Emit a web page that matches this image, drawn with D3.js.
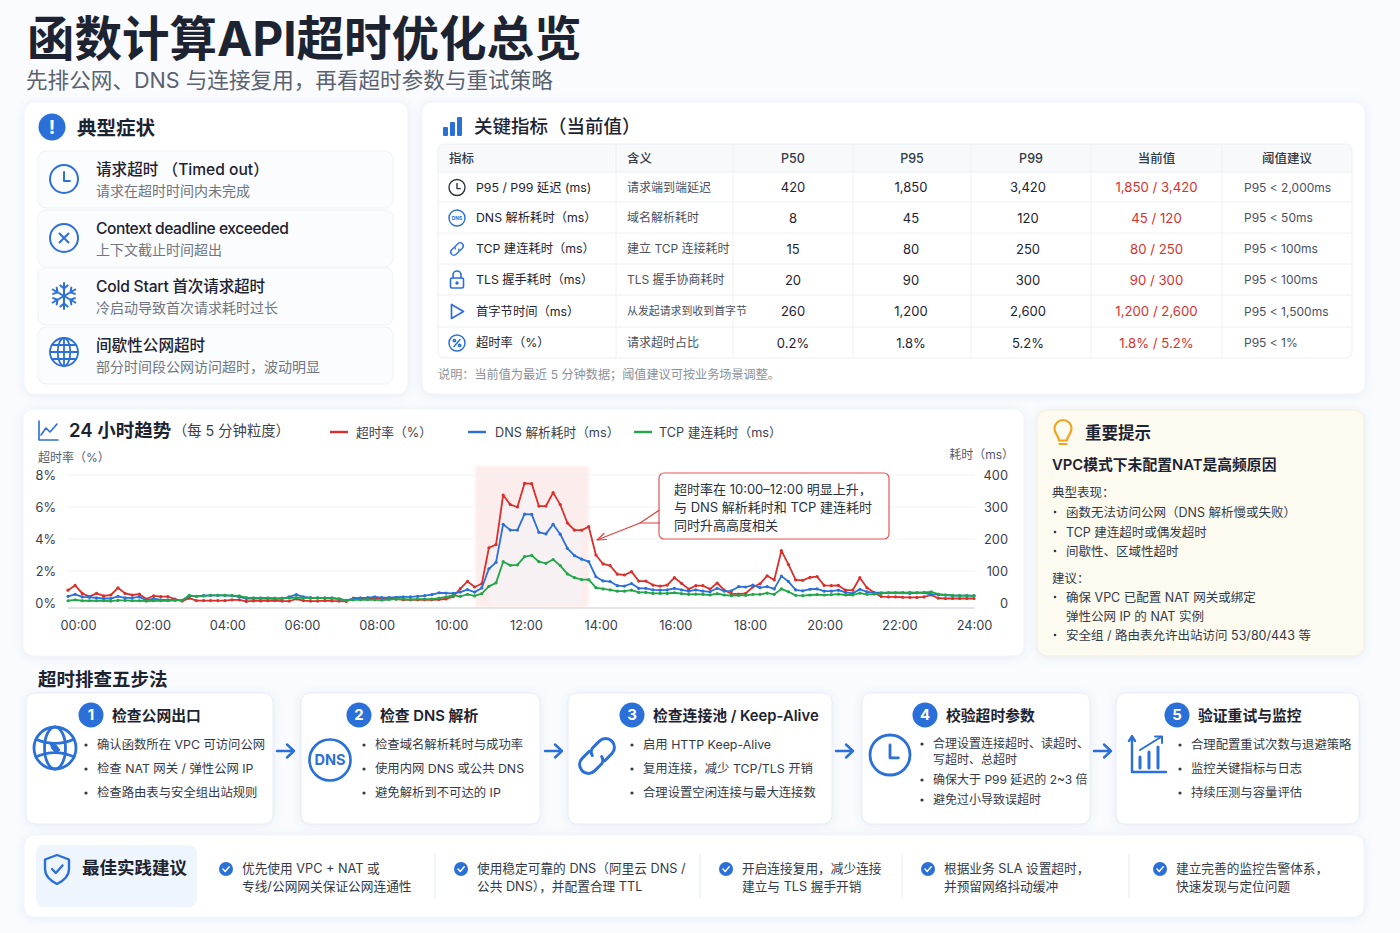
<!DOCTYPE html>
<html lang="zh">
<head>
<meta charset="utf-8">
<title>函数计算API超时优化总览</title>
<script src="https://cdn.jsdelivr.net/npm/d3@7/dist/d3.min.js"></script>
<style>
html, body { margin: 0; padding: 0; background: #f9fbfe; }
svg { display: block; }
text { font-family: "Inter", "Noto Sans CJK SC", sans-serif; }
</style>
</head>
<body>
<div id="chart"></div>
<script>
//////////////////////
// Data
//////////////////////

var pageTitle = "函数计算API超时优化总览";
var pageSubtitle = "先排公网、DNS 与连接复用，再看超时参数与重试策略";

var symptomTitles = ["请求超时 （Timed out）", "Context deadline exceeded", "Cold Start 首次请求超时", "间歇性公网超时"];
var symptomNotes = ["请求在超时时间内未完成", "上下文截止时间超出", "冷启动导致首次请求耗时过长", "部分时间段公网访问超时，波动明显"];

var tableHeaders = ["指标", "含义", "P50", "P95", "P99", "当前值", "阈值建议"];
var metricNames = ["P95 / P99 延迟 (ms)", "DNS 解析耗时（ms）", "TCP 建连耗时（ms）", "TLS 握手耗时（ms）", "首字节时间（ms）", "超时率（%）"];
var metricMeanings = ["请求端到端延迟", "域名解析耗时", "建立 TCP 连接耗时", "TLS 握手协商耗时", "从发起请求到收到首字节", "请求超时占比"];
var p50Values = ["420", "8", "15", "20", "260", "0.2%"];
var p95Values = ["1,850", "45", "80", "90", "1,200", "1.8%"];
var p99Values = ["3,420", "120", "250", "300", "2,600", "5.2%"];
var currentValues = ["1,850 / 3,420", "45 / 120", "80 / 250", "90 / 300", "1,200 / 2,600", "1.8% / 5.2%"];
var thresholds = ["P95 < 2,000ms", "P95 < 50ms", "P95 < 100ms", "P95 < 100ms", "P95 < 1,500ms", "P95 < 1%"];
var tableNote = "说明：当前值为最近 5 分钟数据；阈值建议可按业务场景调整。";

var hourTicks = [0, 2, 4, 6, 8, 10, 12, 14, 16, 18, 20, 22, 24];
var rateTicks = [0, 2, 4, 6, 8];
var msTicks = [0, 100, 200, 300, 400];

var timeoutRate = [
  0.8, 1.1, 0.6, 0.4, 0.6, 0.45, 0.5, 0.95, 0.6, 0.5, 0.55, 0.25, 0.45, 0.4, 0.4,
  0.25, 0.12, 0.3, 0.15, 0.15, 0.15, 0.15, 0.15, 0.2, 0.2, 0.1, 0.13, 0.13, 0.14, 0.15,
  0.12, 0.12, 0.25, 0.15, 0.12, 0.12, 0.15, 0.13, 0.12, 0.1, 0.3, 0.28, 0.28, 0.3, 0.28,
  0.3, 0.25, 0.2, 0.2, 0.2, 0.2, 0.2, 0.22, 0.25, 0.4, 0.9, 1.35, 1.0, 1.2, 3.45, 3.65,
  6.75, 6.15, 6.0, 7.48, 7.46, 6.06, 6.06, 6.9, 6.15, 5.0, 4.55, 4.55, 4.77, 3.0, 2.44,
  2.33, 1.8, 1.75, 1.96, 1.37, 1.37, 1.12, 1.06, 1.12, 1.58, 1.23, 0.87, 1.08, 1.08, 0.87, 1.25,
  0.8, 0.58, 0.56, 0.6, 1.0, 1.2, 1.7, 1.44, 3.27, 2.4, 1.44, 1.42, 1.6, 1.65, 1.1, 1.08, 1.1,
  0.8, 0.8, 1.58, 0.95, 0.65, 0.4, 0.38, 0.38, 0.36, 0.35, 0.35, 0.38, 0.5, 0.3, 0.28, 0.28, 0.28, 0.28, 0.28
];
var dnsMs = [
  21, 27, 19, 18, 16, 14, 14, 21, 16, 16, 19, 8, 14, 10, 10,
  10, 8, 22, 21, 23, 24, 24, 24, 23, 19, 14, 14, 14, 14, 13,
  13, 19, 26, 19, 17, 16, 16, 16, 13, 8, 14, 16, 17, 19, 17,
  17, 18, 19, 19, 21, 23, 26, 32, 31, 30, 34, 42, 34, 47, 107, 127,
  246, 228, 228, 278, 277, 221, 216, 246, 215, 171, 148, 137, 129, 82, 69,
  67, 54, 53, 61, 46, 46, 41, 40, 41, 46, 41, 37, 41, 37, 35, 46,
  37, 38, 51, 50, 56, 48, 51, 44, 84, 67, 41, 38, 43, 44, 37, 37, 40,
  33, 30, 43, 35, 32, 32, 32, 32, 32, 30, 32, 32, 27, 26, 25, 23, 23, 23, 22
];
var tcpMs = [
  7, 10, 7, 7, 7, 7, 6, 8, 8, 7, 7, 6, 7, 7, 7,
  8, 8, 24, 21, 22, 24, 24, 24, 23, 22, 17, 16, 16, 16, 15,
  15, 16, 17, 16, 15, 16, 15, 14, 13, 8, 10, 10, 11, 10, 9,
  11, 12, 12, 11, 12, 12, 12, 15, 19, 24, 21, 27, 22, 29, 52, 63,
  129, 118, 119, 145, 149, 129, 124, 136, 117, 91, 79, 73, 73, 48, 44,
  41, 37, 37, 40, 33, 33, 30, 30, 30, 32, 29, 27, 28, 27, 25, 29,
  25, 23, 24, 24, 27, 27, 31, 27, 44, 35, 24, 23, 25, 26, 25, 26, 28,
  25, 25, 31, 27, 28, 30, 32, 32, 32, 33, 32, 33, 35, 28, 25, 24, 23, 23, 23
];
var legendNames = ["超时率（%）", "DNS 解析耗时（ms）", "TCP 建连耗时（ms）"];
var calloutLines = ["超时率在 10:00–12:00 明显上升，", "与 DNS 解析耗时和 TCP 建连耗时", "同时升高高度相关"];

var tipSymptoms = ["函数无法访问公网（DNS 解析慢或失败）", "TCP 建连超时或偶发超时", "间歇性、区域性超时"];
var tipAdvice = ["确保 VPC 已配置 NAT 网关或绑定", "弹性公网 IP 的 NAT 实例", "安全组 / 路由表允许出站访问 53/80/443 等"];

var stepTitles = ["检查公网出口", "检查 DNS 解析", "检查连接池 / Keep-Alive", "校验超时参数", "验证重试与监控"];
var stepBullets = [
  ["确认函数所在 VPC 可访问公网", "检查 NAT 网关 / 弹性公网 IP", "检查路由表与安全组出站规则"],
  ["检查域名解析耗时与成功率", "使用内网 DNS 或公共 DNS", "避免解析到不可达的 IP"],
  ["启用 HTTP Keep-Alive", "复用连接，减少 TCP/TLS 开销", "合理设置空闲连接与最大连接数"],
  ["合理设置连接超时、读超时、|写超时、总超时", "确保大于 P99 延迟的 2~3 倍", "避免过小导致误超时"],
  ["合理配置重试次数与退避策略", "监控关键指标与日志", "持续压测与容量评估"]
];

var practiceLines = [
  ["优先使用 VPC + NAT 或", "专线/公网网关保证公网连通性"],
  ["使用稳定可靠的 DNS（阿里云 DNS /", "公共 DNS），并配置合理 TTL"],
  ["开启连接复用，减少连接", "建立与 TLS 握手开销"],
  ["根据业务 SLA 设置超时，", "并预留网络抖动缓冲"],
  ["建立完善的监控告警体系，", "快速发现与定位问题"]
];

//////////////////////
// Base
//////////////////////

var BLUE = "#2b6fd8", RED = "#d9302c", GREEN = "#23a54a", INK = "#1d2330", BODY = "#333a47", GRAY = "#6f7682";

var svg = d3.select("#chart").append("svg").attr("width", 1400).attr("height", 933);
var defs = svg.append("defs");

var shadow = defs.append("filter").attr("id", "soft").attr("x", "-5%").attr("y", "-10%").attr("width", "110%").attr("height", "120%");
shadow.append("feDropShadow").attr("dx", 0).attr("dy", 1).attr("stdDeviation", 4)
  .attr("flood-color", "#5a7ab0").attr("flood-opacity", 0.12);

defs.append("filter").attr("id", "blur2").append("feGaussianBlur").attr("stdDeviation", 1.5);

function label(parent, x, y, txt, size, color, weight, anchor) {
  return parent.append("text")
    .attr("x", x).attr("y", y).attr("dy", "0.36em")
    .attr("font-size", size)
    .attr("fill", color || BODY)
    .attr("font-weight", weight || 400)
    .attr("text-anchor", anchor || "start")
    .text(txt);
}

function card(x, y, w, h, fill, stroke) {
  return svg.append("rect").attr("x", x).attr("y", y).attr("width", w).attr("height", h).attr("rx", 10)
    .attr("fill", fill || "#fff").attr("stroke", stroke || "#f1f4f9").attr("filter", "url(#soft)");
}

function icon(x, y, color, width) {
  return svg.append("g").attr("transform", "translate(" + x + "," + y + ")")
    .attr("fill", "none").attr("stroke", color || BLUE).attr("stroke-width", width || 2)
    .attr("stroke-linecap", "round").attr("stroke-linejoin", "round");
}

//////////////////////
// Icons (drawn round 0,0)
//////////////////////

function clockIcon(x, y, r, w, color) {
  var g = icon(x, y, color || BLUE, w);
  g.append("circle").attr("r", r);
  g.append("path").attr("d", "M0 " + (-r * 0.5) + "V" + (r * 0.14) + "H" + (r * 0.42));
}

function crossIcon(x, y, r) {
  var g = icon(x, y, BLUE, 2);
  g.append("circle").attr("r", r);
  g.append("path").attr("d", "M-4.5 -4.5L4.5 4.5M4.5 -4.5L-4.5 4.5");
}

function snowIcon(x, y) {
  var g = icon(x, y, BLUE, 2);
  d3.range(6).forEach(function (k) {
    g.append("path").attr("transform", "rotate(" + k * 60 + ")")
      .attr("d", "M0 0V-13M-3.6 -10.5L0 -7.5L3.6 -10.5");
  });
}

function globeIcon(x, y, r, w) {
  var g = icon(x, y, BLUE, w);
  g.append("circle").attr("r", r);
  g.append("ellipse").attr("rx", r * 0.45).attr("ry", r);
  g.append("path").attr("d", "M0 " + (-r) + "V" + r + "M" + (-r) + " 0H" + r +
    "M" + (-r * 0.86) + " " + (-r * 0.5) + "H" + (r * 0.86) + "M" + (-r * 0.86) + " " + (r * 0.5) + "H" + (r * 0.86));
}

// the step 1 globe has curved latitudes and a small land mark at the centre
function earthIcon(x, y, r, w) {
  var g = icon(x, y, BLUE, w);
  g.append("circle").attr("r", r);
  g.append("ellipse").attr("rx", r * 0.5).attr("ry", r);
  g.append("path").attr("d", "M" + (-r * 0.9) + " " + (-r * 0.42) + "Q0 " + (-r * 0.02) + " " + (r * 0.9) + " " + (-r * 0.42));
  g.append("path").attr("d", "M" + (-r * 0.9) + " " + (r * 0.42) + "Q0 " + (r * 0.02) + " " + (r * 0.9) + " " + (r * 0.42));
  g.append("path").attr("d", "M-5 -6L1 -3L5 2L1 5L-3 1Z").attr("fill", BLUE).attr("stroke-width", 1);
}

function linkIcon(x, y, s, w, color) {
  var g = icon(x, y, color || BLUE, w);
  g.append("g").attr("transform", "rotate(-45)").call(function (l) {
    l.append("path").attr("d", "M" + (-0.1 * s) + " " + (-0.42 * s) + "H" + (-0.58 * s) + "A" + (0.42 * s) + " " + (0.42 * s) + " 0 0 0 " + (-0.58 * s) + " " + (0.42 * s) + "H" + (-0.1 * s) + "A" + (0.32 * s) + " " + (0.32 * s) + " 0 0 0 " + (0.14 * s) + " " + (0.18 * s));
    l.append("path").attr("d", "M" + (0.1 * s) + " " + (0.42 * s) + "H" + (0.58 * s) + "A" + (0.42 * s) + " " + (0.42 * s) + " 0 0 0 " + (0.58 * s) + " " + (-0.42 * s) + "H" + (0.1 * s) + "A" + (0.32 * s) + " " + (0.32 * s) + " 0 0 0 " + (-0.14 * s) + " " + (-0.18 * s));
  });
}

function lockIcon(x, y) {
  var g = icon(x, y, BLUE, 1.6);
  g.append("rect").attr("x", -6.5).attr("y", -2).attr("width", 13).attr("height", 10).attr("rx", 1.5);
  g.append("path").attr("d", "M-4 -2V-5A4 4 0 0 1 4 -5V-2");
  g.append("circle").attr("cy", 3).attr("r", 0.9).attr("fill", BLUE);
}

function playIcon(x, y) {
  icon(x, y, BLUE, 1.7).append("path").attr("d", "M-5.5 -7V7L6.5 0Z");
}

function percentIcon(x, y) {
  var g = icon(x, y, BLUE, 1.5);
  g.append("circle").attr("r", 8);
  g.append("path").attr("d", "M-3 3.5L3 -3.5");
  g.append("circle").attr("cx", -2.6).attr("cy", -2.4).attr("r", 1.2);
  g.append("circle").attr("cx", 2.6).attr("cy", 2.4).attr("r", 1.2);
}

function dnsBadge(x, y, r, size, w) {
  icon(x, y, BLUE, w).append("circle").attr("r", r);
  label(svg, x, y, "DNS", size, BLUE, 700, "middle");
}

function checkBadge(x, y) {
  svg.append("circle").attr("cx", x).attr("cy", y).attr("r", 7).attr("fill", BLUE);
  icon(x, y, "#fff", 1.5).append("path").attr("d", "M-3 0L-0.8 2.4L3.2 -2.2");
}

function stepArrow(x, y) {
  icon(x, y, BLUE, 2.4).append("path").attr("d", "M0 0H17M10 -6.5L17 0L10 6.5");
}

//////////////////////
// Header
//////////////////////

label(svg, 27, 39, pageTitle, 47.5, INK, 700);
label(svg, 26, 80, pageSubtitle, 21.6, "#5b626e");

//////////////////////
// Symptoms
//////////////////////

card(24, 102, 384, 292);
svg.append("circle").attr("cx", 52).attr("cy", 127).attr("r", 13.5).attr("fill", BLUE);
label(svg, 52, 127, "!", 19, "#fff", 700, "middle");
label(svg, 77, 128, "典型症状", 19.5, INK, 700);

var itemTops = [151, 210, 268, 327];
symptomTitles.forEach(function (t, i) {
  var top = itemTops[i];
  svg.append("rect").attr("x", 38).attr("y", top).attr("width", 355).attr("height", 57).attr("rx", 8)
    .attr("fill", "#fbfcfe").attr("stroke", "#eff2f6");
  label(svg, 96, top + 18, t, 15.6, INK, 500)
    .attr("letter-spacing", i === 1 ? -0.45 : (i === 2 ? -0.2 : 0));
  label(svg, 96, top + 40, symptomNotes[i], 14, GRAY);
});
clockIcon(64, 179, 14, 2);
crossIcon(64, 238, 14);
snowIcon(64, 296);
globeIcon(64, 352, 14, 1.8);

//////////////////////
// Metrics table
//////////////////////

card(422, 102, 943, 292);
var bars = svg.append("g").attr("fill", BLUE);
[[443, 127, 5, 9], [450, 122, 5, 14], [457, 117, 5, 19]].forEach(function (b) {
  bars.append("rect").attr("x", b[0]).attr("y", b[1]).attr("width", b[2]).attr("height", b[3]).attr("rx", 1);
});
label(svg, 474, 126, "关键指标（当前值）", 18.5, INK, 500);

var colEdges = [438, 616, 733, 853, 971, 1091, 1222, 1352];
var rowEdges = [172, 202, 233, 264, 295, 327, 358];
var rowMid = metricNames.map(function (d, i) { return (rowEdges[i] + rowEdges[i + 1]) / 2 + 0.5; });
var colMid = colEdges.slice(0, -1).map(function (d, i) { return (d + colEdges[i + 1]) / 2; });

svg.append("path").attr("fill", "#f7f9fb")
  .attr("d", "M438 172V150a6 6 0 0 1 6-6H1346a6 6 0 0 1 6 6V172Z");
svg.append("rect").attr("x", 438).attr("y", 144).attr("width", 914).attr("height", 214).attr("rx", 6)
  .attr("fill", "none").attr("stroke", "#eceff3");
rowEdges.slice(0, -1).forEach(function (y) {
  svg.append("line").attr("x1", 438).attr("x2", 1352).attr("y1", y).attr("y2", y).attr("stroke", "#eef0f4");
});
colEdges.slice(1, -1).forEach(function (x) {
  svg.append("line").attr("x1", x).attr("x2", x).attr("y1", 144).attr("y2", 358).attr("stroke", "#eef0f4");
});

tableHeaders.forEach(function (h, i) {
  if (i < 2) { label(svg, i === 0 ? 449 : 627, 158, h, 12.5, BODY, 500); }
  else { label(svg, colMid[i], 158, h, 12.5, BODY, 500, "middle"); }
});
metricNames.forEach(function (m, i) {
  var y = rowMid[i];
  label(svg, 476, y, m, 12.3, INK);
  label(svg, 627, y, metricMeanings[i], i === 4 ? 10.9 : 12, "#4a515e");
  label(svg, colMid[2], y, p50Values[i], 13, INK, 400, "middle");
  label(svg, colMid[3] - 1, y, p95Values[i], 13, INK, 400, "middle");
  label(svg, colMid[4] - 3, y, p99Values[i], 13, INK, 400, "middle");
  label(svg, colMid[5], y, currentValues[i], 13.2, RED, 400, "middle");
  label(svg, 1244, y, thresholds[i], 12, "#4a515e");
});
clockIcon(457, rowMid[0], 8, 1.4, "#2c3440");
dnsBadge(457, rowMid[1], 8, 5, 1.4);
linkIcon(457, rowMid[2], 7.5, 1.4);
lockIcon(457, rowMid[3]);
playIcon(457, rowMid[4]);
percentIcon(457, rowMid[5]);
label(svg, 438, 375, tableNote, 12.15, "#8b919b");

//////////////////////
// Trend chart
//////////////////////

card(23, 409, 1001, 247);

var lastIndex = timeoutRate.length - 1;
var xIndex = d3.scaleLinear().domain([0, lastIndex]).range([68, 974]);
var xHour = d3.scaleLinear().domain([0, 24]).range([78, 974]);
var yRate = d3.scaleLinear().domain([0, 8]).range([603, 475]);
var yMs = d3.scaleLinear().domain([0, 400]).range([603, 475]);

var trend = icon(0, 0, BLUE, 1.6);
trend.append("path").attr("d", "M39 421V440H58M41 435L46 428L50 432L57 424");
label(svg, 69, 430, "24 小时趋势", 18.5, INK, 600);
label(svg, 173, 431, "（每 5 分钟粒度）", 14.3, "#3a404c");

[[330, 356, RED], [468, 495, BLUE], [634, 659, GREEN]].forEach(function (l, i) {
  svg.append("line").attr("x1", l[0]).attr("x2", l[0] + 18).attr("y1", 432).attr("y2", 432)
    .attr("stroke", l[2]).attr("stroke-width", 2.4);
  label(svg, l[1], 432, legendNames[i], 12.7, "#3a404c");
});
label(svg, 38, 458, "超时率（%）", 12, "#555c68");
label(svg, 1014, 455, "耗时（ms）", 12, "#555c68", 400, "end");

// highlight window behind the spike
svg.append("rect").attr("x", xIndex(57.1)).attr("y", 466).attr("width", xIndex(73) - xIndex(57.1)).attr("height", 141)
  .attr("fill", "#fdecec").attr("filter", "url(#blur2)");

var hazeArea = d3.area()
  .x(function (d) { return xIndex(d); })
  .y0(yRate(0))
  .y1(function (d) { return yRate(timeoutRate[d]); });
svg.append("path").datum(d3.range(59, 73)).attr("d", hazeArea).attr("fill", "#f3f6fc").attr("opacity", 0.5);

// grid
svg.append("g").selectAll("line").data(rateTicks.slice(1)).enter().append("line")
  .attr("x1", 66).attr("x2", 975)
  .attr("y1", function (d) { return yRate(d); })
  .attr("y2", function (d) { return yRate(d); })
  .attr("stroke", "#eef0f3").attr("opacity", 0.8);
svg.append("line").attr("x1", 68).attr("x2", 975).attr("y1", 608).attr("y2", 608).attr("stroke", "#c9ccd2").attr("stroke-width", 1.2);

var axisBottom = d3.axisBottom(xHour).tickValues(hourTicks).tickSize(0)
  .tickFormat(function (h) { return (h < 10 ? "0" : "") + h + ":00"; });
var gx = svg.append("g").attr("transform", "translate(0,618)").call(axisBottom);
gx.select(".domain").remove();
gx.selectAll("text").attr("font-size", 12.8).attr("fill", "#3a404c").attr("font-family", null).attr("dy", "0.71em");

var axisLeft = d3.axisLeft(yRate).tickValues(rateTicks).tickSize(0).tickFormat(function (d) { return d + "%"; });
var gl = svg.append("g").attr("transform", "translate(59,0)").call(axisLeft);
gl.select(".domain").remove();
gl.selectAll("text").attr("font-size", 12.8).attr("fill", "#3a404c").attr("font-family", null);

var axisRight = d3.axisLeft(yMs).tickValues(msTicks).tickSize(0);
var gr = svg.append("g").attr("transform", "translate(1011,0)").call(axisRight);
gr.select(".domain").remove();
gr.selectAll("text").attr("font-size", 12.8).attr("fill", "#3a404c").attr("font-family", null);

function drawSeries(values, scale, color) {
  var lineGen = d3.line()
    .x(function (d, i) { return xIndex(i); })
    .y(function (d) { return scale(d); });
  var g = svg.append("g");
  g.append("path").datum(values).attr("d", lineGen)
    .attr("fill", "none").attr("stroke", color).attr("stroke-width", 1.8).attr("stroke-linejoin", "round");
  g.selectAll("circle").data(values).enter().append("circle")
    .attr("cx", function (d, i) { return xIndex(i); })
    .attr("cy", function (d) { return scale(d); })
    .attr("r", 1.6).attr("fill", color);
}
drawSeries(timeoutRate, yRate, RED);
drawSeries(dnsMs, yMs, BLUE);
drawSeries(tcpMs, yMs, GREEN);

// callout
svg.append("rect").attr("x", 659).attr("y", 473).attr("width", 230).attr("height", 66).attr("rx", 5)
  .attr("fill", "#fff").attr("stroke", "#e2575a").attr("stroke-width", 1.2);
var pointer = icon(0, 0, "#d9403c", 1.2);
pointer.append("path").attr("d", "M659.5 510L640 523L597 540").attr("stroke-linecap", "butt");
pointer.append("path").attr("d", "M640 523H659.5");
pointer.append("path").attr("d", "M604 533.5L597 540L606.5 539.5");
calloutLines.forEach(function (t, i) {
  label(svg, 674, 489 + i * 18, t, 13, "#2a303b");
});

//////////////////////
// Tip card
//////////////////////

card(1037, 410, 327, 246, "#fdfaf0", "#f4efdd");
var bulb = icon(1063, 431, "#f2a41f", 2.2);
bulb.append("path").attr("d", "M-4 9.5C-4 5 -8.5 3 -8.5 -2.5A8.5 8.5 0 0 1 8.5 -2.5C8.5 3 4 5 4 9.5Z");
bulb.append("path").attr("d", "M-3.5 13H3.5");
label(svg, 1085, 433, "重要提示", 16.5, INK, 600);
label(svg, 1052, 465, "VPC模式下未配置NAT是高频原因", 14.8, INK, 600);
label(svg, 1052, 492, "典型表现：", 12.5, BODY);
label(svg, 1052, 578, "建议：", 12.5, BODY);
tipSymptoms.forEach(function (t, i) {
  var y = [512, 532, 551][i];
  label(svg, 1066, y, t, 12.5, BODY);
  svg.append("circle").attr("cx", 1055).attr("cy", y).attr("r", 1.3).attr("fill", BODY);
});
tipAdvice.forEach(function (t, i) {
  var y = [597, 616, 635][i];
  label(svg, 1066, y, t, 12.5, BODY);
  if (i !== 1) { svg.append("circle").attr("cx", 1055).attr("cy", y).attr("r", 1.3).attr("fill", BODY); }
});

//////////////////////
// Five steps
//////////////////////

label(svg, 38, 679, "超时排查五步法", 18.5, INK, 700);

var stepBoxes = [[26, 247], [301, 239], [568, 264], [862, 228], [1116, 243]];
var stepNumX = [91, 359, 632, 925, 1177];
var stepTextX = [97, 375, 643, 933, 1191];
stepTitles.forEach(function (t, i) {
  svg.append("rect").attr("x", stepBoxes[i][0]).attr("y", 693).attr("width", stepBoxes[i][1]).attr("height", 131).attr("rx", 9)
    .attr("fill", "#fff").attr("stroke", "#e6edf6").attr("filter", "url(#soft)");
  svg.append("circle").attr("cx", stepNumX[i]).attr("cy", 715).attr("r", 12.5).attr("fill", BLUE);
  label(svg, stepNumX[i], 715, String(i + 1), 15, "#fff", 700, "middle");
  label(svg, stepNumX[i] + 21, 716, t, 14.8, INK, 600);

  var y = i === 3 ? 744 : 745;
  stepBullets[i].forEach(function (b) {
    var parts = b.split("|");
    svg.append("circle").attr("cx", stepTextX[i] - 11).attr("cy", y).attr("r", 1.6).attr("fill", BODY);
    parts.forEach(function (p, k) {
      label(svg, stepTextX[i], y + k * 16, p, i === 3 ? 12 : 12.35, BODY);
    });
    y += i === 3 ? 20 + (parts.length - 1) * 16 : 24;
  });
});
[277, 545, 836, 1094].forEach(function (x) { stepArrow(x, 751); });

earthIcon(55, 748, 21, 2.8);
dnsBadge(330, 760, 20.5, 14.5, 2.6);
linkIcon(597, 756, 21, 3);
clockIcon(890, 755, 20, 2.8);

var growth = icon(0, 0, BLUE, 2.4);
growth.append("path").attr("d", "M1132 737V772H1166M1129 741L1132 736L1135 741");
growth.append("path").attr("stroke-width", 3).attr("d", "M1140 768V757M1149 768V752M1158 768V747");
growth.append("path").attr("stroke-width", 2).attr("d", "M1140 750L1161 737M1155 736.5H1162V743");

//////////////////////
// Best practice
//////////////////////

card(24, 835, 1340, 82);
svg.append("rect").attr("x", 36).attr("y", 845).attr("width", 161).attr("height", 62).attr("rx", 8).attr("fill", "#eff5fc");
var shield = icon(57, 869, BLUE, 2.4);
shield.append("path").attr("d", "M0 -14L12 -9.5V0C12 7 7 11.5 0 15C-7 11.5 -12 7 -12 0V-9.5Z");
shield.append("path").attr("d", "M-5 0L-1.2 4L5.5 -3.5");
label(svg, 82, 868, "最佳实践建议", 17.5, INK, 600);

var practiceX = [242, 477, 742, 944, 1176];
practiceLines.forEach(function (lines, i) {
  checkBadge(practiceX[i] - 16, 869);
  lines.forEach(function (t, k) {
    label(svg, practiceX[i], 868 + k * 18, t, 12.7, BODY);
  });
});
[435, 700, 902, 1129].forEach(function (x) {
  svg.append("line").attr("x1", x).attr("x2", x).attr("y1", 854).attr("y2", 898).attr("stroke", "#e3e9f1");
});
</script>
</body>
</html>
